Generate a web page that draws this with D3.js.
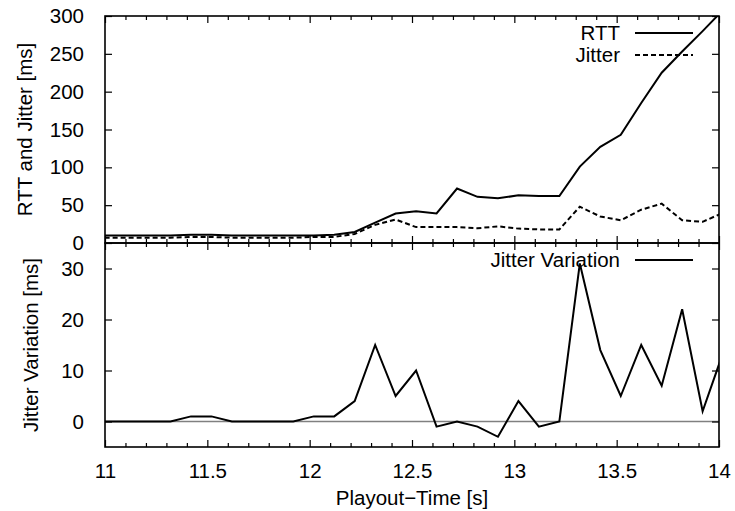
<!DOCTYPE html>
<html>
<head>
<meta charset="utf-8">
<script src="https://cdn.jsdelivr.net/npm/d3@7"></script>
<style>
  html, body { margin: 0; padding: 0; background: #fff; }
  svg { display: block; font-family: "Liberation Sans", Arial, Helvetica, sans-serif; }
</style>
</head>
<body>
<svg id="chart" width="735" height="511"></svg>
<script>
// ---- data ----
const times = [10.92, 11.02, 11.12, 11.22, 11.32, 11.42, 11.52, 11.62, 11.72, 11.82, 11.92,
               12.02, 12.12, 12.22, 12.32, 12.42, 12.52, 12.62, 12.72, 12.82, 12.92,
               13.02, 13.12, 13.22, 13.32, 13.42, 13.52, 13.62, 13.72, 13.82, 13.92, 14.02];
const rtt = [10, 10, 10, 10, 10, 11, 11, 10, 10, 10, 10,
             10, 11, 14.5, 27, 39, 42, 39, 72, 61, 59,
             63, 62, 62, 101, 127, 143, 185, 225, 253, 280, 308];
const jitter = [7, 7, 7, 7, 7, 8, 8, 7, 7, 7, 7,
                8, 8, 12, 24, 31, 21, 21, 21, 19.5, 22,
                19, 18, 18, 48, 35, 30, 44, 52, 30, 28, 40];
const jitterVar = [0, 0, 0, 0, 0, 1, 1, 0, 0, 0, 0,
                   1, 1, 4, 15, 5, 10, -1, 0, -1, -3,
                   4, -1, 0, 31, 14, 5, 15, 7, 22, 2, 13.5];
const xTickLabels = [11, 11.5, 12, 12.5, 13, 13.5, 14];
const xMinorTicks = [11.1, 11.2, 11.3, 11.4, 11.6, 11.7, 11.8, 11.9, 12.1, 12.2, 12.3, 12.4,
                     12.6, 12.7, 12.8, 12.9, 13.1, 13.2, 13.3, 13.4, 13.6, 13.7, 13.8, 13.9];
const topYTicks = [0, 50, 100, 150, 200, 250, 300];
const botYTicks = [0, 10, 20, 30];

// ---- layout ----
const L = 105, R = 719;
const T1 = 16, B1 = 243, T2 = 243, B2 = 447;
const FS = 20.5;
const svg = d3.select("#chart");

const x = d3.scaleLinear().domain([11, 14]).range([L, R]);
const y1 = d3.scaleLinear().domain([0, 300]).range([B1, T1]);
const y2 = d3.scaleLinear().domain([-5, 35]).range([B2, T2]);

// clip paths
const defs = svg.append("defs");
defs.append("clipPath").attr("id", "clip1").append("rect")
  .attr("x", L).attr("y", T1).attr("width", R - L).attr("height", B1 - T1);
defs.append("clipPath").attr("id", "clip2").append("rect")
  .attr("x", L).attr("y", T2).attr("width", R - L).attr("height", B2 - T2);

// zero line in bottom panel
svg.append("line")
  .attr("x1", L).attr("x2", R).attr("y1", y2(0)).attr("y2", y2(0))
  .attr("stroke", "#808080").attr("stroke-width", 1.5);

// data lines
const line1 = d3.line().x((d, i) => x(times[i])).y(d => y1(d));
const line2 = d3.line().x((d, i) => x(times[i])).y(d => y2(d));

svg.append("path").attr("clip-path", "url(#clip1)")
  .attr("d", line1(jitter)).attr("fill", "none").attr("stroke", "#000")
  .attr("stroke-width", 2).attr("stroke-dasharray", "5,3");
svg.append("path").attr("clip-path", "url(#clip1)")
  .attr("d", line1(rtt)).attr("fill", "none").attr("stroke", "#000")
  .attr("stroke-width", 2);
svg.append("path").attr("clip-path", "url(#clip2)")
  .attr("d", line2(jitterVar)).attr("fill", "none").attr("stroke", "#000")
  .attr("stroke-width", 2);

// ticks via d3 axes
function xTicks(yPos, dir, vals, len) {
  const axis = (dir > 0 ? d3.axisBottom(x) : d3.axisTop(x))
    .tickValues(vals).tickSize(-len).tickFormat("");
  const g = svg.append("g").attr("transform", `translate(0,${yPos})`).call(axis);
  g.select(".domain").remove();
  g.selectAll("line").attr("stroke", "#000").attr("stroke-width", 1.2);
  return g;
}
xTicks(T1, -1, xTickLabels, 7);
xTicks(T1, -1, xMinorTicks, 4);
xTicks(B1, 1, xTickLabels, 7);
xTicks(B1, 1, xMinorTicks, 4);
xTicks(T2, -1, xTickLabels, 7);
xTicks(T2, -1, xMinorTicks, 4);
xTicks(B2, 1, xTickLabels, 7);
xTicks(B2, 1, xMinorTicks, 4);

function yTicks(scale, vals) {
  const gl = svg.append("g").attr("transform", `translate(${L},0)`)
    .call(d3.axisLeft(scale).tickValues(vals).tickSize(-7).tickPadding(21)
      .tickFormat(d3.format("")));
  gl.select(".domain").remove();
  gl.selectAll("line").attr("stroke", "#000").attr("stroke-width", 1.2);
  gl.selectAll("text").attr("font-size", FS).attr("fill", "#000")
    .attr("font-family", "Liberation Sans, Arial, sans-serif");
  const gr = svg.append("g").attr("transform", `translate(${R},0)`)
    .call(d3.axisRight(scale).tickValues(vals).tickSize(-7).tickFormat(""));
  gr.select(".domain").remove();
  gr.selectAll("line").attr("stroke", "#000").attr("stroke-width", 1.2);
}
yTicks(y1, topYTicks);
yTicks(y2, botYTicks);

// x tick labels
const gx = svg.append("g").attr("transform", `translate(0,${B2})`)
  .call(d3.axisBottom(x).tickValues(xTickLabels).tickSize(0).tickPadding(16)
    .tickFormat(d3.format("")));
gx.select(".domain").remove();
gx.selectAll("text").attr("font-size", FS).attr("fill", "#000")
  .attr("font-family", "Liberation Sans, Arial, sans-serif");

// borders
svg.append("rect").attr("x", L).attr("y", T1).attr("width", R - L).attr("height", B1 - T1)
  .attr("fill", "none").attr("stroke", "#000").attr("stroke-width", 1.6);
svg.append("rect").attr("x", L).attr("y", T2).attr("width", R - L).attr("height", B2 - T2)
  .attr("fill", "none").attr("stroke", "#000").attr("stroke-width", 1.6);

// axis titles
svg.append("text").attr("transform", `translate(32,${(T1 + B1) / 2}) rotate(-90)`)
  .attr("text-anchor", "middle").attr("font-size", FS).text("RTT and Jitter [ms]");
svg.append("text").attr("transform", `translate(38,${(T2 + B2) / 2}) rotate(-90)`)
  .attr("text-anchor", "middle").attr("font-size", FS).text("Jitter Variation [ms]");
svg.append("text").attr("x", (L + R) / 2).attr("y", 505)
  .attr("text-anchor", "middle").attr("font-size", FS).text("Playout\u2212Time [s]");

// legends
function legendItem(label, yPos, dash) {
  svg.append("text").attr("x", 620).attr("y", yPos).attr("dy", "0.35em")
    .attr("text-anchor", "end").attr("font-size", FS).text(label);
  svg.append("line").attr("x1", 635).attr("x2", 693).attr("y1", yPos).attr("y2", yPos)
    .attr("stroke", "#000").attr("stroke-width", 2)
    .attr("stroke-dasharray", dash ? "5,3" : null);
}
legendItem("RTT", 33, false);
legendItem("Jitter", 55, true);
legendItem("Jitter Variation", 260, false);
</script>
</body>
</html>
